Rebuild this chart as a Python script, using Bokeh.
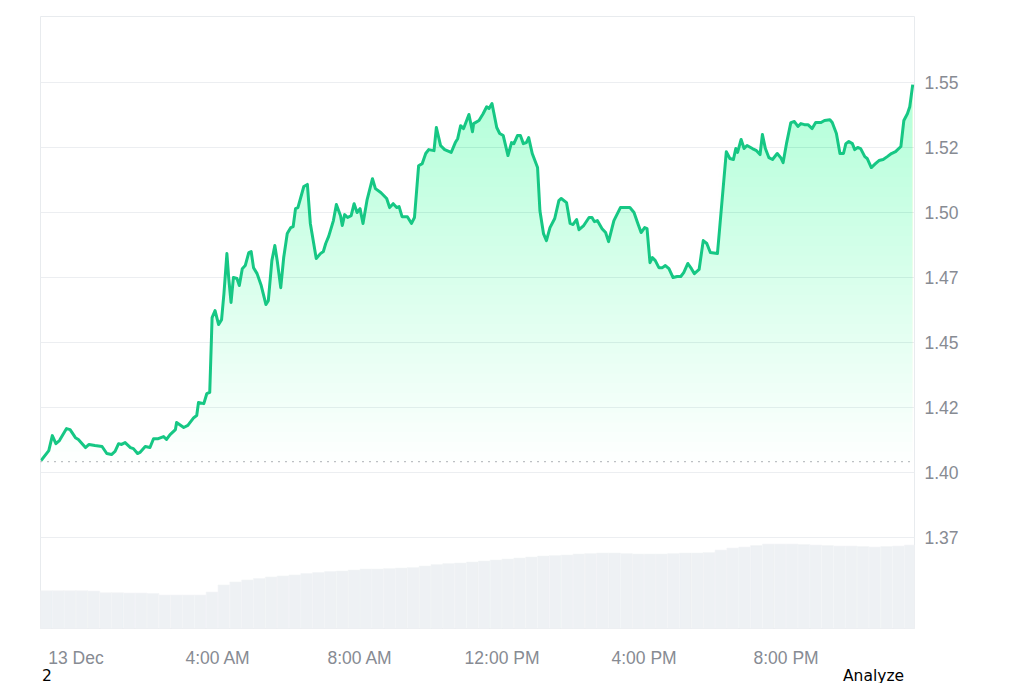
import numpy as np
import pandas as pd
from bokeh.plotting import figure
from bokeh.layouts import column
from bokeh.models import Range1d, FixedTicker, Span, Div, CustomJSTickFormatter
from bokeh.embed import file_html
from bokeh.resources import INLINE

# ---------------- data ----------------
start_time = "2024-12-12 23:00"
end_offset_min = 1477

# price samples: minutes after start_time, price in USD
price_minutes = [1,14,20,26,32,44,50,59,64,76,
    82,92,104,112,120,126,132,137,143,152,
    157,164,168,177,185,191,199,208,213,219,
    228,230,242,249,259,264,267,276,281,286,
    290,295,301,306,310,315,318,322,326,332,
    336,341,346,352,356,360,366,373,381,385,
    391,396,400,406,411,417,423,427,431,435,
    445,451,456,466,473,478,482,487,495,500,
    507,510,514,519,525,530,535,540,545,552,
    561,566,575,585,590,596,602,606,611,620,
    627,632,639,645,651,656,665,669,676,683,
    694,701,705,710,715,724,730,732,741,748,
    754,758,763,766,771,776,782,790,796,800,
    806,811,816,821,825,831,840,844,850,855,
    861,869,876,880,889,895,900,906,910,918,
    927,932,936,941,949,955,960,969,980,992,
    996,1003,1009,1015,1021,1025,1030,1034,1039,1045,
    1051,1056,1062,1069,1076,1082,1087,1094,1100,1105,
    1113,1120,1126,1132,1144,1159,1165,1171,1175,1178,
    1184,1189,1194,1203,1210,1216,1220,1225,1231,1237,
    1245,1251,1255,1261,1268,1274,1280,1285,1291,1297,
    1304,1310,1319,1325,1334,1338,1345,1351,1357,1361,
    1366,1372,1376,1381,1386,1393,1397,1404,1411,1417,
    1424,1431,1438,1445,1454,1459,1465,1469,1474]

price_usd = [1.4046,1.4084,1.4142,1.4111,1.4123,1.4169,1.4165,1.4134,1.4127,1.4096,
    1.4108,1.4104,1.4100,1.4073,1.4069,1.4081,1.4111,1.4108,1.4115,1.4096,
    1.4092,1.4073,1.4077,1.4100,1.4096,1.4130,1.4130,1.4138,1.4127,1.4146,
    1.4165,1.4192,1.4173,1.4181,1.4211,1.4219,1.4269,1.4265,1.4303,1.4308,
    1.4596,1.4623,1.4569,1.4588,1.4688,1.4842,1.4750,1.4654,1.4750,1.4746,
    1.4719,1.4784,1.4796,1.4846,1.4850,1.4788,1.4765,1.4719,1.4646,1.4661,
    1.4815,1.4873,1.4815,1.4711,1.4827,1.4919,1.4942,1.4946,1.5015,1.5019,
    1.5100,1.5108,1.4958,1.4823,1.4842,1.4850,1.4881,1.4908,1.4969,1.5031,
    1.4988,1.4950,1.4992,1.4981,1.4988,1.5034,1.5000,1.5015,1.4958,1.5050,
    1.5130,1.5092,1.5077,1.5054,1.5019,1.5034,1.5019,1.5023,1.4984,1.4984,
    1.4958,1.4981,1.5180,1.5188,1.5227,1.5242,1.5238,1.5327,1.5258,1.5242,
    1.5231,1.5269,1.5284,1.5334,1.5323,1.5377,1.5311,1.5342,1.5354,1.5380,
    1.5407,1.5400,1.5419,1.5385,1.5327,1.5304,1.5296,1.5219,1.5269,1.5265,
    1.5296,1.5296,1.5265,1.5269,1.5288,1.5227,1.5173,1.5007,1.4919,1.4892,
    1.4942,1.4977,1.5046,1.5054,1.5038,1.4958,1.4954,1.4973,1.4934,1.4950,
    1.4981,1.4981,1.4965,1.4969,1.4938,1.4923,1.4888,1.4969,1.5019,1.5019,
    1.5019,1.5000,1.4961,1.4923,1.4942,1.4938,1.4807,1.4827,1.4815,1.4788,
    1.4788,1.4796,1.4784,1.4750,1.4754,1.4754,1.4769,1.4804,1.4784,1.4765,
    1.4781,1.4892,1.4881,1.4846,1.4842,1.5234,1.5208,1.5204,1.5246,1.5231,
    1.5281,1.5246,1.5258,1.5246,1.5238,1.5223,1.5300,1.5246,1.5211,1.5204,
    1.5227,1.5211,1.5192,1.5269,1.5346,1.5350,1.5331,1.5342,1.5338,1.5338,
    1.5323,1.5346,1.5346,1.5354,1.5357,1.5346,1.5304,1.5227,1.5227,1.5265,
    1.5273,1.5265,1.5242,1.5250,1.5246,1.5215,1.5208,1.5173,1.5188,1.5200,
    1.5204,1.5215,1.5227,1.5234,1.5254,1.5354,1.5380,1.5407,1.5492]

open_price = 1.4042

# volume per 20-minute bucket (millions USD)
volume_bucket_min = 20
volume_musd = [60.5,60.5,60.5,60.5,60,57.3,57.3,56.8,56.8,56,
    53.6,53.6,53.6,53.6,58.4,69.6,74.4,77.6,80,82.4,
    84,85.6,88,89.6,91.2,92,93.6,95.2,95.2,96,
    96.8,97.6,100,102.4,104,104.8,106.4,108,109.6,111.2,
    112.8,114.4,116,116.8,117.6,119.2,120,120.8,120.8,120,
    119.2,119.2,119.2,120,120.8,120.8,121.6,125.6,128.8,130.4,
    132.8,135.2,135.2,135.2,134.4,133.6,132.8,132,132,131.2,
    130.4,131.2,132,133.6]

y_ticks = [1.375, 1.40, 1.425, 1.45, 1.475, 1.50, 1.525, 1.55]
x_tick_times = ["2024-12-13 00:00", "2024-12-13 04:00", "2024-12-13 08:00",
                "2024-12-13 12:00", "2024-12-13 16:00", "2024-12-13 20:00"]
x_tick_labels = ["13 Dec", "4:00 AM", "8:00 AM", "12:00 PM", "4:00 PM", "8:00 PM"]
footer_texts = ["2", "Analyze"]

# ---------------- build ----------------
t0 = pd.Timestamp(start_time)
t = t0 + pd.to_timedelta(price_minutes, unit="m")
pr = np.array(price_usd)

def ms(ts):
    return float(pd.Timestamp(ts).value // 10**6)

x0 = ms(t0)
x1 = ms(t0 + pd.Timedelta(minutes=end_offset_min))

GREEN = "#16c784"
LABEL = "#878b93"
FONT = "Liberation Sans"

p = figure(x_axis_type="datetime", y_axis_location="right",
           frame_width=874, frame_height=612,
           min_border_left=40, min_border_right=102,
           min_border_top=16, min_border_bottom=40,
           x_range=Range1d(x0, x1), y_range=Range1d(1.3400, 1.5754),
           output_backend="svg", toolbar_location=None)
p.background_fill_color = "white"
p.border_fill_color = "white"
p.outline_line_color = "#e8ebee"

# volume on its own scale
p.extra_y_ranges = {"vol": Range1d(0, 980)}
vt = t0 + pd.to_timedelta([volume_bucket_min * i + volume_bucket_min / 2
                           for i in range(len(volume_musd))], unit="m")
p.vbar(x=vt, top=volume_musd, bottom=0, width=volume_bucket_min * 60 * 1000,
       y_range_name="vol", fill_color="#eef1f4", line_color="#f3f5f7",
       line_width=0.6)

# gradient-like fill under the price line (stacked translucent layers)
N = 40
base, top = open_price, 1.555
levels = np.linspace(base, top, N, endpoint=False)
alpha = 1 - (1 - 0.27) ** (1.0 / N)
for a in levels:
    p.varea(x=t, y1=a, y2=np.maximum(pr, a), fill_color=GREEN, fill_alpha=alpha)

p.add_layout(Span(location=open_price, dimension="width", line_color="#7d828a",
                  line_width=1.3, line_dash="1 6"))

p.line(x=t, y=pr, line_color=GREEN, line_width=3, line_join="round")

# axes
p.yaxis.ticker = FixedTicker(ticks=y_ticks)
p.ygrid.ticker = FixedTicker(ticks=y_ticks)
p.yaxis.formatter = CustomJSTickFormatter(
    code="return (Math.floor(tick * 100 + 1e-6) / 100).toFixed(2);")
x_tick_ms = [ms(s) for s in x_tick_times]
p.xaxis.ticker = FixedTicker(ticks=x_tick_ms)
p.xaxis.formatter = CustomJSTickFormatter(
    args=dict(tick_vals=x_tick_ms, tick_texts=x_tick_labels),
    code="const i = tick_vals.indexOf(tick); return i >= 0 ? tick_texts[i] : '';")

for ax in (p.xaxis[0], p.yaxis[0]):
    ax.axis_line_color = None
    ax.major_tick_line_color = None
    ax.minor_tick_line_color = None
    ax.major_label_text_color = LABEL
    ax.major_label_text_font = FONT
    ax.major_label_text_font_size = "17.5px"
p.yaxis.major_label_standoff = 4
p.xaxis.major_label_standoff = 13

p.xgrid.visible = False
p.ygrid.grid_line_color = "#eceef1"
p.ygrid.grid_line_width = 1

# stray page texts under the chart
span_style = ("position:absolute;top:-2px;font-family:'DejaVu Sans';"
              "font-size:15.5px;line-height:16px;color:#000;white-space:nowrap;")
footer = Div(
    text=(f'<span style="{span_style}left:42px;">{footer_texts[0]}</span>'
          f'<span style="{span_style}left:843px;">{footer_texts[1]}</span>'),
    width=1016, height=15,
    styles={"position": "relative", "overflow": "visible", "margin": "0"})

layout = column(p, footer, spacing=0)
open("out.html", "w").write(file_html(layout, INLINE))
